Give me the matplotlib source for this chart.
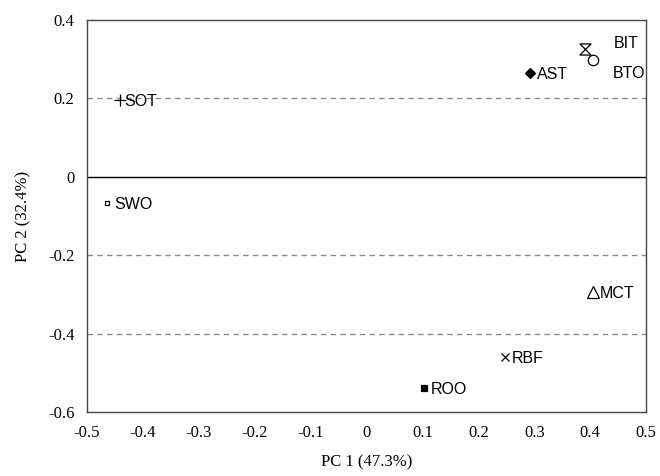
import matplotlib
matplotlib.use("Agg")
import matplotlib.pyplot as plt
from matplotlib.path import Path

# sample scores
names = ["SOT", "SWO", "AST", "BIT", "BTO", "MCT", "RBF", "ROO"]
pc1 = [-0.441, -0.464, 0.292, 0.390, 0.405, 0.405, 0.248, 0.103]
pc2 = [0.196, -0.067, 0.265, 0.327, 0.298, -0.294, -0.460, -0.539]

x_ticks = [-0.5, -0.4, -0.3, -0.2, -0.1, 0, 0.1, 0.2, 0.3, 0.4, 0.5]
y_ticks = [-0.6, -0.4, -0.2, 0, 0.2, 0.4]

# hourglass marker for BIT
hourglass = Path([(-1, 1), (1, 1), (-1, -1), (1, -1), (-1, 1)],
                 [Path.MOVETO, Path.LINETO, Path.LINETO, Path.LINETO, Path.CLOSEPOLY])

# marker, size, filled, label offset (pt)
styles = {
    "SOT": ("+", 8, True, (3, -1)),
    "SWO": ("s", 3.5, False, (5, -1)),
    "AST": ("D", 5.5, True, (5, -1)),
    "BIT": (hourglass, 8, False, (21, 4)),
    "BTO": ("o", 7.5, False, (14, -10)),
    "MCT": ("^", 9, False, (5, -1)),
    "RBF": ("x", 6, True, (5, -1)),
    "ROO": ("s", 5, True, (5, -1)),
}

fig = plt.figure(figsize=(6.6, 4.76), dpi=100)
ax = fig.add_axes([0.132, 0.134, 0.847, 0.824])

for y in [0.2, -0.2, -0.4]:
    ax.axhline(y, color="#8a8a8a", lw=1, ls=(0, (4, 3)), zorder=1)
ax.axhline(0, color="black", lw=1, zorder=1)

for n, x, y in zip(names, pc1, pc2):
    m, ms, filled, off = styles[n]
    ax.plot(x, y, marker=m, ms=ms, color="black", ls="none",
            mfc="black" if filled else "white", mew=0.9, zorder=3)
    ax.annotate(n, (x, y), xytext=off, textcoords="offset points",
                ha="left", va="center", fontsize=11.5,
                family="Liberation Sans", zorder=4)

ax.set_xlim(-0.5, 0.5)
ax.set_ylim(-0.6, 0.4)
ax.set_xticks(x_ticks)
ax.set_xticklabels(["0" if v == 0 else "{:g}".format(v) for v in x_ticks])
ax.set_yticks(y_ticks)
ax.set_yticklabels(["0" if v == 0 else "{:g}".format(v) for v in y_ticks])
ax.tick_params(length=0, labelsize=12, pad=9)
for lab in ax.get_xticklabels() + ax.get_yticklabels():
    lab.set_family("Liberation Serif")

for s in ax.spines.values():
    s.set_color("#444444")
    s.set_linewidth(1)

ax.set_xlabel("PC 1 (47.3%)", family="Liberation Serif", fontsize=12, labelpad=10)
ax.set_ylabel("PC 2 (32.4%)", family="Liberation Serif", fontsize=12, labelpad=12)

fig.savefig("out.png", dpi=100)
